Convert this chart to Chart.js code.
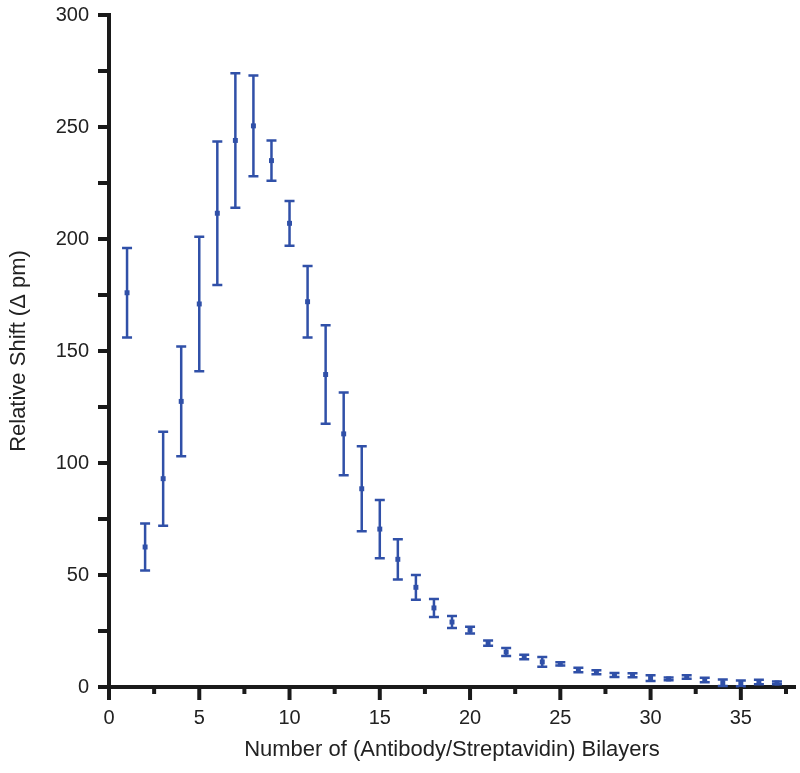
<!DOCTYPE html>
<html>
<head>
<meta charset="utf-8">
<script src="https://cdn.jsdelivr.net/npm/chart.js@4.4.0/dist/chart.umd.min.js"></script>
<style>
  html, body { margin: 0; padding: 0; background: #fff; }
  #wrap { width: 800px; height: 773px; position: relative; }
</style>
</head>
<body>
<div id="wrap"><canvas id="grafica" width="800" height="773"></canvas></div>
<script>
// layers 1..37
var capas = [1,2,3,4,5,6,7,8,9,10,11,12,13,14,15,16,17,18,19,20,21,22,23,24,25,26,27,28,29,30,31,32,33,34,35,36,37];
var desplazamiento = [176,62.5,93,127.5,171,211.5,244,250.5,235,207,172,139.5,113,88.5,70.5,57,44.5,35.3,29,25.4,19.6,15.6,13.4,11.2,10.3,7.6,6.6,5.4,5.2,4,3.6,4.5,3.1,1.9,1.6,2.2,1.8];
var errores = [20,10.5,21,24.5,30,32,30,22.5,9,10,16,22,18.5,19,13,9,5.5,4,2.7,1.5,1.2,1.8,1,2.2,0.7,1,0.9,0.9,0.9,1.3,0.6,0.8,1,1.5,1.3,1,0.6];
var ticksX = [0,5,10,15,20,25,30,35];
var ticksY = [0,50,100,150,200,250,300];

var azul = 'rgb(48,80,168)';
var fuente = "'Liberation Sans', Arial, Helvetica, sans-serif";

// barras de error dibujadas con las escalas del grafico
var barrasError = {
    id: 'barrasError',
    beforeDatasetsDraw: function(chart){
        var ctx = chart.ctx;
        var sx = chart.scales.x, sy = chart.scales.y;
        ctx.save();
        ctx.strokeStyle = azul;
        ctx.lineWidth = 2.5;
        for (var i = 0; i < capas.length; i++){
            var px = sx.getPixelForValue(capas[i]);
            var top = sy.getPixelForValue(desplazamiento[i] + errores[i]);
            var bot = sy.getPixelForValue(desplazamiento[i] - errores[i]);
            ctx.beginPath();
            ctx.moveTo(px, top); ctx.lineTo(px, bot);
            ctx.moveTo(px - 5, top); ctx.lineTo(px + 5, top);
            ctx.moveTo(px - 5, bot); ctx.lineTo(px + 5, bot);
            ctx.stroke();
        }
        ctx.restore();
    }
};

// marcas de los ejes (mayores y menores)
var marcasEjes = {
    id: 'marcasEjes',
    afterDraw: function(chart){
        var ctx = chart.ctx;
        var sx = chart.scales.x, sy = chart.scales.y;
        var area = chart.chartArea;
        ctx.save();
        ctx.strokeStyle = '#1a1a1a';
        ctx.lineWidth = 4;
        for (var v = 0; v <= 37.5; v += 2.5){
            var px = sx.getPixelForValue(v);
            var largo = (v % 5 == 0) ? 13 : 7;
            ctx.beginPath();
            ctx.moveTo(px, area.bottom); ctx.lineTo(px, area.bottom + largo);
            ctx.stroke();
        }
        for (var w = 0; w <= 300; w += 25){
            var py = sy.getPixelForValue(w);
            ctx.beginPath();
            ctx.moveTo(area.left, py); ctx.lineTo(area.left - 11, py);
            ctx.stroke();
        }
        ctx.restore();
    }
};

var datos = [];
for (var i = 0; i < capas.length; i++){
    datos.push({x: capas[i], y: desplazamiento[i]});
}

var ctx = document.getElementById('grafica').getContext('2d');
var myChart = new Chart(ctx, {
    type: 'scatter',
    data: {
        datasets: [{
            label: 'Relative Shift',
            data: datos,
            pointStyle: 'rect',
            pointRadius: 3.5,
            backgroundColor: azul,
            borderColor: azul,
            borderWidth: 0,
            showLine: false
        }]
    },
    options: {
        responsive: false,
        animation: false,
        devicePixelRatio: 1,
        layout: { padding: { top: 15, right: 5, left: 0, bottom: 0 } },
        scales: {
            x: {
                type: 'linear',
                min: 0,
                max: 38,
                afterBuildTicks: function(scale){
                    scale.ticks = ticksX.map(function(v){ return {value: v}; });
                },
                afterFit: function(scale){
                    scale.height = 86;
                    scale.paddingLeft = 0;
                    scale.paddingRight = 0;
                },
                grid: { display: true, drawOnChartArea: false, drawTicks: false },
                border: { display: true, color: '#1a1a1a', width: 4 },
                ticks: {
                    padding: 19,
                    color: '#222',
                    font: { family: fuente, size: 20 },
                    maxRotation: 0
                },
                title: {
                    display: true,
                    text: 'Number of (Antibody/Streptavidin) Bilayers',
                    color: '#222',
                    font: { family: fuente, size: 22 },
                    padding: { top: 0, bottom: 10 }
                }
            },
            y: {
                type: 'linear',
                min: 0,
                max: 300,
                afterBuildTicks: function(scale){
                    scale.ticks = ticksY.map(function(v){ return {value: v}; });
                },
                afterFit: function(scale){
                    scale.width = 109;
                    scale.paddingTop = 0;
                    scale.paddingBottom = 0;
                },
                grid: { display: true, drawOnChartArea: false, drawTicks: false },
                border: { display: true, color: '#1a1a1a', width: 4 },
                ticks: {
                    padding: 20,
                    color: '#222',
                    font: { family: fuente, size: 20 }
                },
                title: {
                    display: true,
                    text: 'Relative Shift (\u0394 pm)',
                    color: '#222',
                    font: { family: fuente, size: 22 },
                    padding: { top: 6, bottom: 0 }
                }
            }
        },
        plugins: {
            legend: { display: false },
            tooltip: { enabled: false }
        }
    },
    plugins: [barrasError, marcasEjes]
});
</script>
</body>
</html>
